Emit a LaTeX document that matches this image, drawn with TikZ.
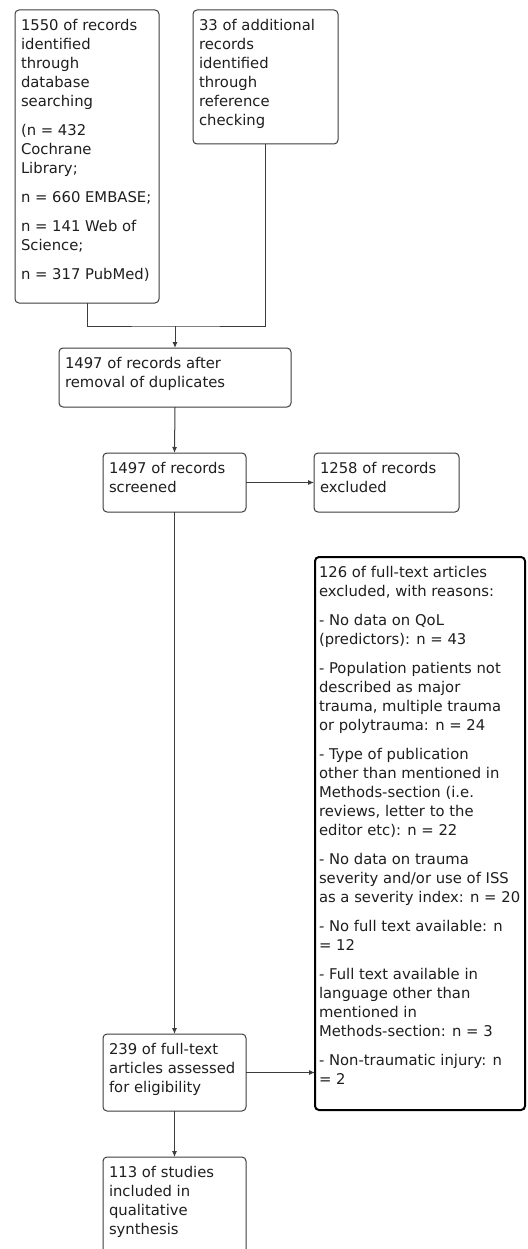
\documentclass[tikz,border=0pt]{standalone}
\usepackage{fontspec}
\setmainfont{DejaVu Sans}
\usepackage{xcolor}
\usepackage{tikz}
\usetikzlibrary{arrows.meta}
\definecolor{linea}{HTML}{3C3C3C}
\definecolor{testo}{HTML}{1E1E1E}

% testo dei riquadri: larghezza, altezza, contenuto
\newcommand{\boxtxt}[3]{\parbox[t][\dimexpr#2pt-18pt\relax][t]{\dimexpr#1pt-12pt\relax}{%
    \fontsize{14.8}{19}\selectfont\setlength{\parskip}{10pt}\raggedright#3}}

\tikzset{
    box/.style={draw=linea, text=testo, line width=1pt, rounded corners=4pt, anchor=north west,
        inner xsep=6pt, inner ysep=9pt, outer sep=0pt},
    boldbox/.style={box, draw=black, line width=2pt, inner xsep=4pt},
    arrow/.style={draw=linea, line width=1pt, -{Latex[length=6pt,width=5pt]}}
}

\begin{document}
\begin{tikzpicture}[x=1pt, y=-1pt]
        \useasboundingbox (0,0) rectangle (527,1249);
        \clip (0,0) rectangle (527,1249);

        % Identificazione
        \node[box] (recid) at (15,10) {\boxtxt{144}{293}{1550 of records\\identified\\through\\database\\searching\par
            (n = 432\\Cochrane\\Library;\par
            n = 660 EMBASE;\par
            n = 141 Web of\\Science;\par
            n = 317 PubMed)}};
        \node[box] (recadd) at (193,10) {\boxtxt{145}{134}{33 of additional\\records\\identified\\through\\reference\\checking}};

        % Screening
        \node[box] (dedup) at (59,348) {\boxtxt{232}{59}{1497 of records after\\removal of duplicates}};
        \node[box] (screened) at (103,453) {\boxtxt{143}{59}{1497 of records\\screened}};
        \node[box] (excluded) at (314,453) {\boxtxt{145}{59}{1258 of records\\excluded}};

        % Eleggibilita (larghezza 210 + 4 per il margine ridotto)
        \node[boldbox] (ftexcl) at (315,557) {\boxtxt{214}{553}{126 of full-text articles\\excluded, with reasons:\par
            - No data on QoL\\(predictors): n = 43\par
            - Population patients not\\described as major\\trauma, multiple trauma\\or polytrauma: n = 24\par
            - Type of publication\\other than mentioned in\\Methods-section (i.e.\\reviews, letter to the\\editor etc): n = 22\par
            - No data on trauma\\severity and/or use of ISS\\as a severity index: n = 20\par
            - No full text available: n\\= 12\par
            - Full text available in\\language other than\\mentioned in\\Methods-section: n = 3\par
            - Non-traumatic injury: n\\= 2}};
        \node[box] (assessed) at (103,1034) {\boxtxt{143}{77}{239 of full-text\\articles assessed\\for eligibility}};

        % Inclusi
        \node[box] (included) at (103,1157) {\boxtxt{143}{130}{113 of studies\\included in\\qualitative\\synthesis}};

        % Frecce
        \coordinate (giunto) at (175,326);
        \draw[draw=linea, line width=1pt] (recid.south) |- (giunto) -| (recadd.south);
        \draw[arrow] (giunto) -- (dedup.north);
        \draw[arrow] (dedup.south) -- (screened.north);
        \draw[arrow] (screened) -- (excluded);
        \draw[arrow] (screened.south) -- (assessed.north);
        \draw[arrow] (assessed.east) -- (assessed.east -| ftexcl.west);
        \draw[arrow] (assessed.south) -- (included.north);
    \end{tikzpicture}
\end{document}
